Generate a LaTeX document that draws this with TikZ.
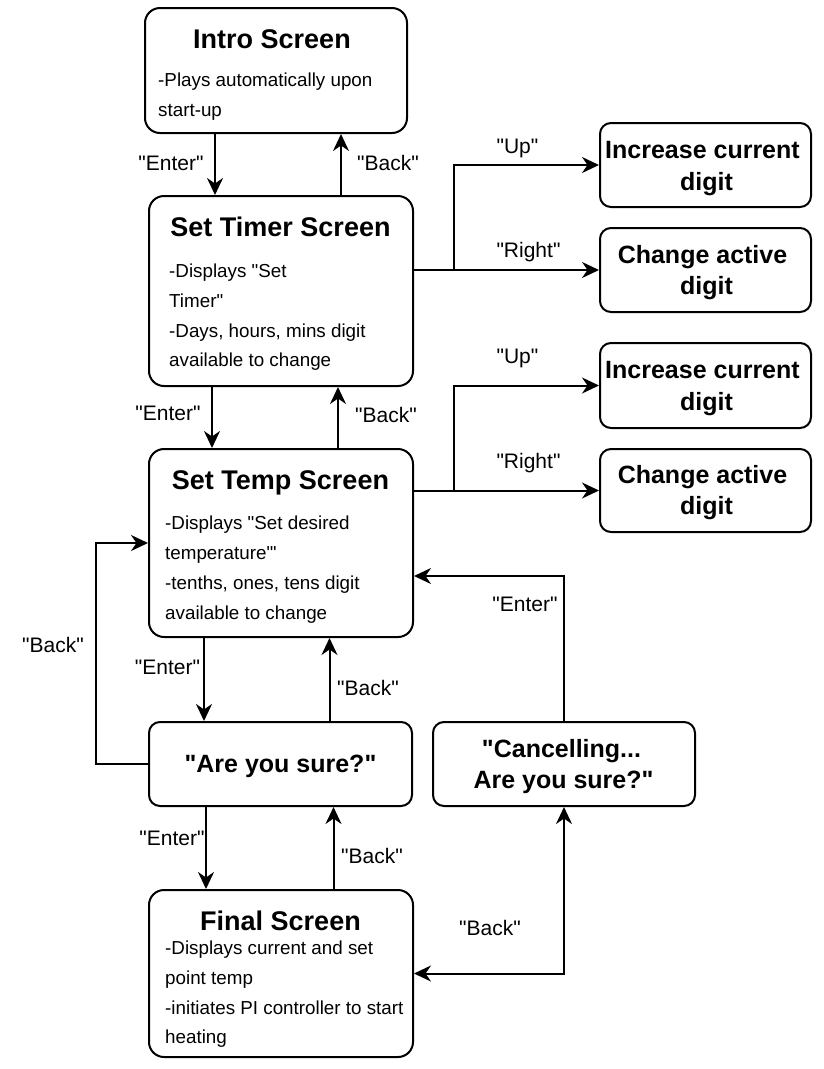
\documentclass[tikz,border=0pt]{standalone}
\usepackage{fontspec}
\setmainfont{Liberation Sans}[Ligatures=TeXOff]
\usetikzlibrary{arrows.meta}
\tikzset{
  box/.style={draw, line width=2pt, rounded corners=15pt, inner sep=0pt},
  sbox/.style={draw, line width=2pt, rounded corners=11pt, inner sep=0pt},
  ttl/.style={font=\fontsize{27}{30}\selectfont\bfseries, inner sep=0pt, anchor=base},
  bd/.style={font=\fontsize{18.8}{30}\selectfont, inner sep=0pt, anchor=base west},
  lbl/.style={font=\fontsize{21}{24}\selectfont, inner sep=0pt, anchor=base},
  bl/.style={font=\fontsize{25}{31}\selectfont\bfseries, inner sep=0pt, anchor=base},
  tip/.tip={Stealth[length=17pt,width=16pt,inset=5.5pt]},
  arr/.style={line width=2pt, -tip},
  darr/.style={line width=2pt, tip-tip},
}
\begin{document}
\begin{tikzpicture}[x=1pt,y=-1pt]
\useasboundingbox (0,0) rectangle (824,1069);

% boxes
\node[box, minimum width=262, minimum height=125] (intro) at (276,70.5) {};
\node[box, minimum width=264, minimum height=190] (timer) at (281,291) {};
\node[box, minimum width=264, minimum height=188] (temp) at (281,543) {};
\node[sbox, minimum width=263, minimum height=84] (sure) at (280.5,764) {};
\node[sbox, minimum width=262, minimum height=84] (cancel) at (564,764) {};
\node[box, minimum width=264, minimum height=167] (final) at (281,973.5) {};
\node[sbox, minimum width=211, minimum height=84] (inc1) at (705.5,165) {};
\node[sbox, minimum width=211, minimum height=84] (chg1) at (705.5,270) {};
\node[sbox, minimum width=211, minimum height=85] (inc2) at (705.5,385.5) {};
\node[sbox, minimum width=211, minimum height=83] (chg2) at (705.5,490.5) {};

% titles
\node[ttl] (introT) at (272,48) {Intro Screen};
\node[ttl] (timerT) at (280.5,236) {Set Timer Screen};
\node[ttl] (tempT) at (280.5,489) {Set Temp Screen};
\node[ttl] (finalT) at (280.5,930) {Final Screen};

% body text
\node[bd] (introB1) at (158,86) {-Plays automatically upon};
\node[bd] (introB2) at (158,116) {start-up};
\node[bd] (timerB1) at (169,277) {-Displays "Set};
\node[bd] (timerB2) at (169,307) {Timer"};
\node[bd] (timerB3) at (169,337) {-Days, hours, mins digit};
\node[bd] (timerB4) at (169,366) {available to change};
\node[bd] (tempB1) at (165,529) {-Displays "Set desired};
\node[bd] (tempB2) at (165,559) {temperature"'};
\node[bd] (tempB3) at (165,589) {-tenths, ones, tens digit};
\node[bd] (tempB4) at (165,619) {available to change};
\node[bd] (finalB1) at (165,954) {-Displays current and set};
\node[bd] (finalB2) at (165,984) {point temp};
\node[bd] (finalB3) at (165,1014) {-initiates PI controller to start};
\node[bd] (finalB4) at (165,1043) {heating};

% small box texts
\node[bl] (inc1a) at (702.5,158) {Increase current};
\node[bl] (inc1b) at (706.5,190) {digit};
\node[bl] (chg1a) at (702.5,263) {Change active};
\node[bl] (chg1b) at (706.5,294) {digit};
\node[bl] (inc2a) at (702.5,378) {Increase current};
\node[bl] (inc2b) at (706.5,410) {digit};
\node[bl] (chg2a) at (702.5,483) {Change active};
\node[bl] (chg2b) at (706.5,514) {digit};
\node[bl] (sureT) at (280.5,772) {"Are you sure?"};
\node[bl] (cancelA) at (561.5,757) {"Cancelling...};
\node[bl] (cancelB) at (563.5,788) {Are you sure?"};

% connectors
\draw[arr] ([xshift=-61pt]intro.south) -- ([xshift=-61pt]intro.south |- timer.north);
\draw[arr] ([xshift=60pt]timer.north) -- ([xshift=60pt]timer.north |- intro.south);
\draw[arr] ([xshift=-69pt]timer.south) -- ([xshift=-69pt]timer.south |- temp.north);
\draw[arr] ([xshift=57pt]temp.north) -- ([xshift=57pt]temp.north |- timer.south);
\draw[arr] (timer.east |- chg1.west) -- ++(40,0) |- (inc1.west);
\draw[arr] (timer.east |- chg1.west) -- (chg1.west);
\draw[arr] (temp.east |- chg2.west) -- ++(40,0) |- (inc2.west);
\draw[arr] (temp.east |- chg2.west) -- (chg2.west);
\draw[arr] (sure.west) -- ++(-52,0) |- (temp.west);
\draw[arr] ([xshift=-77pt]temp.south) -- ([xshift=-77pt]temp.south |- sure.north);
\draw[arr] ([xshift=49pt]sure.north) -- ([xshift=49pt]sure.north |- temp.south);
\draw[arr] ([xshift=-74.5pt]sure.south) -- ([xshift=-74.5pt]sure.south |- final.north);
\draw[arr] ([xshift=52.5pt]final.north) -- ([xshift=52.5pt]final.north |- sure.south);
\draw[arr] (cancel.north) |- ([yshift=-33pt]temp.east);
\draw[darr] (cancel.south) |- (final.east);

% edge labels
\node[lbl] (l1) at (171,170) {"Enter"};
\node[lbl] (l2) at (388,170) {"Back"};
\node[lbl] (l3) at (517.5,153) {"Up"};
\node[lbl] (l4) at (528.5,257) {"Right"};
\node[lbl] (l5) at (168,420) {"Enter"};
\node[lbl] (l6) at (386,422) {"Back"};
\node[lbl] (l7) at (517.5,363) {"Up"};
\node[lbl] (l8) at (528.5,468) {"Right"};
\node[lbl] (l9) at (53,652) {"Back"};
\node[lbl] (l10) at (167.5,674) {"Enter"};
\node[lbl] (l11) at (368,695) {"Back"};
\node[lbl] (l12) at (525,611) {"Enter"};
\node[lbl] (l13) at (172,845.5) {"Enter"};
\node[lbl] (l14) at (372,863) {"Back"};
\node[lbl] (l15) at (490,935) {"Back"};
\end{tikzpicture}
\end{document}
